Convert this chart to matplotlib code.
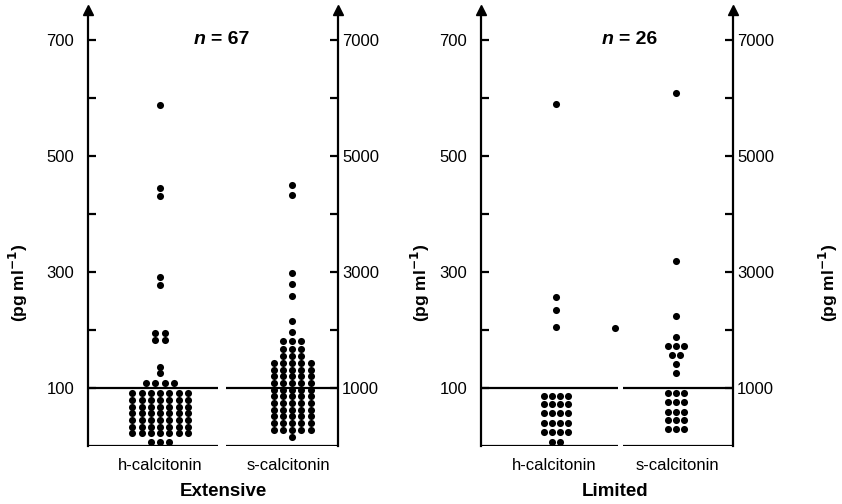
import matplotlib.pyplot as plt

plt.rcParams['font.family'] = ['Liberation Sans Narrow', 'Liberation Sans', 'DejaVu Sans']

# dot levels read from the chart and how many patients sit on each level
# h-calcitonin in pg/ml (left axis), s-calcitonin in pg/ml (right axis)
ext_h_levels = [7, 22, 33.5, 45, 56.5, 68, 79.5, 91, 109, 126, 136, 183, 195, 278, 291, 431, 445, 588]
ext_h_counts = [3, 7, 7, 7, 7, 7, 7, 7, 4, 1, 1, 2, 2, 1, 1, 1, 1, 1]

ext_s_levels = [160, 280, 395, 510, 625, 740, 855, 970, 1085, 1200, 1315, 1430,
                1560, 1680, 1810, 1970, 2160, 2590, 2790, 2980, 4330, 4500]
ext_s_counts = [1, 5, 5, 5, 5, 5, 5, 5, 5, 5, 5, 5, 3, 3, 3, 1, 1, 1, 1, 1, 1, 1]

lim_h_levels = [7, 24, 40, 57, 72, 86, 205, 234, 257, 590]
lim_h_counts = [2, 4, 4, 4, 4, 4, 1, 1, 1, 1]

lim_s_levels = [290, 450, 590, 760, 910, 1260, 1410, 1570, 1720, 1880, 2240, 3190, 6090]
lim_s_counts = [3, 3, 3, 3, 3, 1, 1, 2, 3, 1, 1, 1, 1]

lim_extra_levels = [203]  # lone point between the two groups
lim_extra_counts = [1]

group_names = ['h-calcitonin', 's-calcitonin']
panel_names = ['Extensive', 'Limited']
panel_n = [67, 26]

LW = 1.6


def dot_rows(ax, center, levels, counts, dx):
    xs, ys = [], []
    for v, c in zip(levels, counts):
        for i in range(c):
            xs.append(center + (i - (c - 1) / 2) * dx)
            ys.append(v)
    ax.scatter(xs, ys, s=26, color='black', linewidths=0, zorder=3, clip_on=False)


def panel(fig, rect, h_x, s_x, gap, dx, h_data, s_data):
    ax = fig.add_axes(rect)
    ax.set_xlim(0, 1)
    ax.set_ylim(0, 752)
    ax2 = ax.twinx()
    ax2.set_ylim(0, 7520)

    for a in (ax, ax2):
        a.spines['top'].set_visible(False)
        a.spines['bottom'].set_visible(False)
        a.set_xticks([])
    ax.spines['right'].set_visible(False)
    ax2.spines['left'].set_visible(False)
    ax.spines['left'].set_linewidth(LW)
    ax2.spines['right'].set_linewidth(LW)

    ax.set_yticks(range(100, 800, 100))
    ax.set_yticklabels(['100', '', '300', '', '500', '', '700'])
    ax2.set_yticks(range(1000, 8000, 1000))
    ax2.set_yticklabels(['1000', '', '3000', '', '5000', '', '7000'])
    ax.tick_params(axis='y', direction='in', length=6, width=LW, labelsize=12, pad=10)
    ax2.tick_params(axis='y', direction='in', length=6, width=LW, labelsize=12, pad=3)

    # baseline and 100 line, broken between the groups
    for y in (0, 100):
        ax.plot([0, gap[0]], [y, y], color='black', lw=LW, solid_capstyle='butt')
        ax.plot([gap[1], 1], [y, y], color='black', lw=LW, solid_capstyle='butt')

    # arrow heads on top of the axes
    for xa in (0, 1):
        ax.plot(xa, 1.0, marker='^', ms=7, color='black', transform=ax.transAxes,
                clip_on=False, zorder=5)

    dot_rows(ax, h_x, h_data[0], h_data[1], dx)
    dot_rows(ax2, s_x, s_data[0], s_data[1], dx)
    return ax, ax2


fig = plt.figure(figsize=(8.42, 5.04), dpi=100)

top_h = 436 / 504
bottom = 58 / 504

ax1, ax1r = panel(fig, [88 / 842, bottom, 250 / 842, top_h], 0.288, 0.816, (0.52, 0.55), 0.037,
                  (ext_h_levels, ext_h_counts), (ext_s_levels, ext_s_counts))
ax2, ax2r = panel(fig, [481 / 842, bottom, 252 / 842, top_h], 0.298, 0.775, (0.543, 0.565), 0.032,
                  (lim_h_levels, lim_h_counts), (lim_s_levels, lim_s_counts))
dot_rows(ax2, 0.532, lim_extra_levels, lim_extra_counts, 0.032)

ylab = r'(pg ml$^{\mathbf{-1}}$)'
for xl in (18, 420, 828):
    fig.text(xl / 842, 1 - 283 / 504, ylab, rotation=90, ha='center', va='center',
             fontsize=12.5, fontweight='bold')

for xc, n in zip((208, 616), panel_n):
    fig.text(xc / 842 - 0.003, 1 - 40 / 504, 'n', style='italic', fontweight='bold',
             fontsize=14, ha='right', va='center')
    fig.text(xc / 842 + 0.003, 1 - 40 / 504, f'= {n}', fontweight='bold',
             fontsize=14, ha='left', va='center')

for ax, xs in ((ax1, (160, 288)), (ax2, (554, 677))):
    for xc, name in zip(xs, group_names):
        fig.text(xc / 842, 1 - 466 / 504, name, ha='center', va='center', fontsize=12)

for xc, name in zip((223, 615), panel_names):
    fig.text(xc / 842, 1 - 492 / 504, name, ha='center', va='center', fontsize=13.5,
             fontweight='bold')

fig.savefig('out.png', dpi=100)
